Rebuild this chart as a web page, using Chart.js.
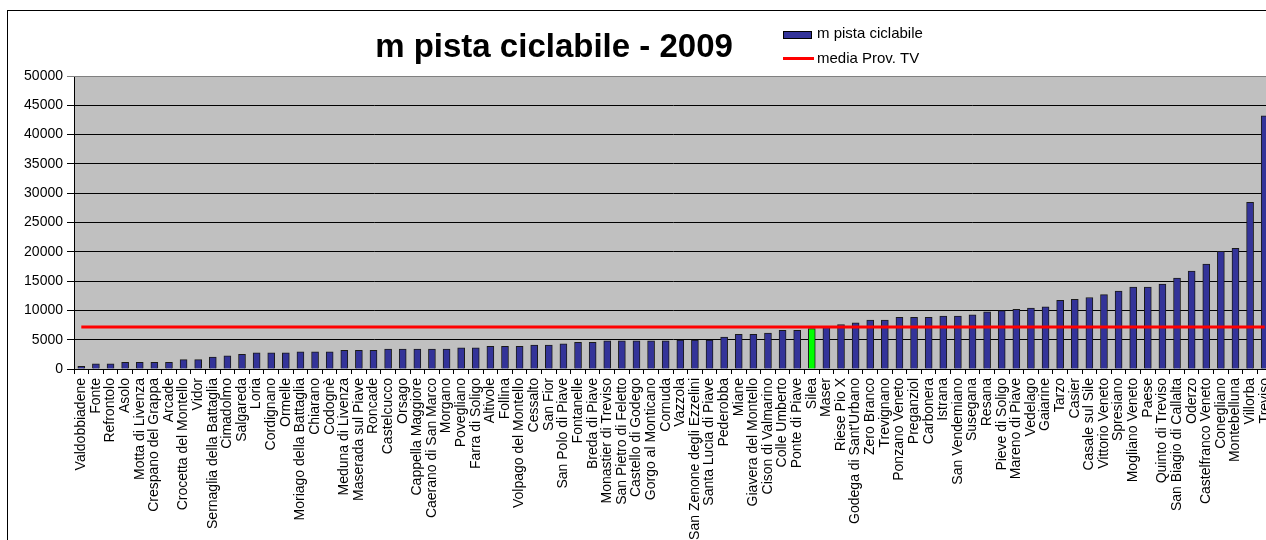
<!DOCTYPE html>
<html lang="it">
<head>
<meta charset="utf-8">
<title>m pista ciclabile - 2009</title>
<script src="https://cdn.jsdelivr.net/npm/chart.js@4.4.1/dist/chart.umd.min.js"></script>
<style>
    html, body {
        margin: 0;
        padding: 0;
        background: #fff;
        overflow: hidden;
    }
    #wrap {
        position: absolute;
        left: 0;
        top: 0;
        width: 1300px;
        height: 600px;
    }
</style>
</head>
<body>
<div id="wrap"><canvas id="pistaChart" width="1300" height="600"></canvas></div>
<script>
const comuni = [
    'Valdobbiadene', 'Fonte', 'Refrontolo', 'Asolo', 'Motta di Livenza', 'Crespano del Grappa',
    'Arcade', 'Crocetta del Montello', 'Vidor', 'Sernaglia della Battaglia', 'Cimadolmo', 'Salgareda',
    'Loria', 'Cordignano', 'Ormelle', 'Moriago della Battaglia', 'Chiarano', 'Codognè',
    'Meduna di Livenza', 'Maserada sul Piave', 'Roncade', 'Castelcucco', 'Orsago', 'Cappella Maggiore',
    'Caerano di San Marco', 'Morgano', 'Povegliano', 'Farra di Soligo', 'Altivole', 'Follina',
    'Volpago del Montello', 'Cessalto', 'San Fior', 'San Polo di Piave', 'Fontanelle', 'Breda di Piave',
    'Monastier di Treviso', 'San Pietro di Feletto', 'Castello di Godego', 'Gorgo al Monticano', 'Cornuda', 'Vazzola',
    'San Zenone degli Ezzelini', 'Santa Lucia di Piave', 'Pederobba', 'Miane', 'Giavera del Montello', 'Cison di Valmarino',
    'Colle Umberto', 'Ponte di Piave', 'Silea', 'Maser', 'Riese Pio X', "Godega di Sant'Urbano",
    'Zero Branco', 'Trevignano', 'Ponzano Veneto', 'Preganziol', 'Carbonera', 'Istrana',
    'San Vendemiano', 'Susegana', 'Resana', 'Pieve di Soligo', 'Mareno di Piave', 'Vedelago',
    'Gaiarine', 'Tarzo', 'Casier', 'Casale sul Sile', 'Vittorio Veneto', 'Spresiano',
    'Mogliano Veneto', 'Paese', 'Quinto di Treviso', 'San Biagio di Callalta', 'Oderzo', 'Castelfranco Veneto',
    'Conegliano', 'Montebelluna', 'Villorba', 'Treviso'
];

// metri di pista ciclabile per comune, 2009
const metriPista = [
    450, 900, 900, 1150, 1150, 1150,
    1150, 1600, 1600, 2050, 2250, 2500,
    2750, 2750, 2750, 2950, 2950, 2950,
    3200, 3200, 3200, 3400, 3400, 3400,
    3400, 3400, 3600, 3600, 3850, 3850,
    3850, 4100, 4100, 4300, 4550, 4550,
    4800, 4800, 4800, 4800, 4800, 4950,
    4950, 4950, 5450, 5900, 5900, 6150,
    6600, 6600, 6900, 7200, 7600, 7900,
    8350, 8350, 8800, 8800, 8800, 9050,
    9050, 9250, 9750, 9950, 10200, 10400,
    10600, 11700, 11900, 12200, 12700, 13300,
    14000, 14000, 14500, 15500, 16700, 17900,
    20100, 20600, 28450, 43200
];

const mediaProvTV = 7150;
const comuneEvidenziato = 'Silea';

const yTicks = [0, 5000, 10000, 15000, 20000, 25000, 30000, 35000, 40000, 45000, 50000];

const titolo = 'm pista ciclabile - 2009';
const FONT = '"Liberation Sans", Arial, sans-serif';

const BLU = '#333399';
const VERDE = '#00FF00';
const ROSSO = '#FF0000';

const PLOT_LEFT = 74;
const PLOT_TOP = 76;
const PLOT_BOTTOM = 369;
const PLOT_RIGHT = 1272;

const canvas = document.getElementById('pistaChart');

// cornice, sfondo grigio, titolo e legenda
const decorPlugin = {
    id: 'decor',
    beforeDraw(chart) {
        const ctx = chart.ctx;
        const a = chart.chartArea;
        ctx.save();
        ctx.fillStyle = '#fff';
        ctx.fillRect(0, 0, chart.width, chart.height);
        ctx.strokeStyle = '#000';
        ctx.lineWidth = 1;
        ctx.strokeRect(7.5, 10.5, chart.width + 50, chart.height + 50);
        ctx.fillStyle = '#C0C0C0';
        ctx.fillRect(a.left, a.top, a.right - a.left, a.bottom - a.top);
        ctx.restore();
    },
    afterDraw(chart) {
        const ctx = chart.ctx;
        const a = chart.chartArea;
        ctx.save();
        ctx.strokeStyle = '#808080';
        ctx.lineWidth = 1;
        ctx.beginPath();
        ctx.moveTo(a.left, a.top + 0.5);
        ctx.lineTo(a.right, a.top + 0.5);
        ctx.stroke();

        ctx.fillStyle = '#000';
        ctx.font = 'bold 33px ' + FONT;
        ctx.textAlign = 'center';
        ctx.textBaseline = 'alphabetic';
        ctx.fillText(titolo, 554, 57);

        const ds = chart.data.datasets;
        ctx.fillStyle = BLU;
        ctx.fillRect(783, 31, 29, 8);
        ctx.strokeStyle = '#000';
        ctx.strokeRect(783.5, 31.5, 28, 7);
        ctx.strokeStyle = ROSSO;
        ctx.lineWidth = 3;
        ctx.beginPath();
        ctx.moveTo(783, 58.5);
        ctx.lineTo(814, 58.5);
        ctx.stroke();

        ctx.fillStyle = '#000';
        ctx.font = '15px ' + FONT;
        ctx.textAlign = 'left';
        ctx.fillText(ds[1].label, 817, 38);
        ctx.fillText(ds[0].label, 817, 62.5);
        ctx.restore();
    }
};

const chart = new Chart(canvas, {
    type: 'bar',
    data: {
        labels: comuni,
        datasets: [{
            type: 'line',
            label: 'media Prov. TV',
            data: comuni.map(() => mediaProvTV),
            borderColor: ROSSO,
            borderWidth: 3,
            pointRadius: 0,
            fill: false,
            order: 0
        }, {
            type: 'bar',
            label: 'm pista ciclabile',
            data: metriPista,
            backgroundColor: comuni.map(c => c === comuneEvidenziato ? VERDE : BLU),
            borderColor: '#1a1a1a',
            borderWidth: 1,
            borderSkipped: 'bottom',
            barThickness: 7,
            order: 1
        }]
    },
    options: {
        responsive: false,
        animation: false,
        devicePixelRatio: 1,
        layout: {
            padding: { top: PLOT_TOP, right: 1300 - PLOT_RIGHT, bottom: 0, left: 0 }
        },
        plugins: {
            legend: { display: false },
            title: { display: false },
            tooltip: { enabled: false }
        },
        scales: {
            x: {
                offset: true,
                afterFit: scale => { scale.height = 600 - PLOT_BOTTOM; },
                grid: {
                    offset: true,
                    drawOnChartArea: false,
                    drawTicks: true,
                    tickLength: 5,
                    color: '#000'
                },
                border: { color: '#000', width: 1 },
                ticks: {
                    autoSkip: false,
                    minRotation: 90,
                    maxRotation: 90,
                    padding: 4,
                    color: '#000',
                    font: { family: FONT, size: 14 }
                }
            },
            y: {
                min: 0,
                max: 50000,
                afterFit: scale => { scale.width = PLOT_LEFT; },
                afterBuildTicks: scale => {
                    scale.ticks = yTicks.map(v => ({ value: v }));
                },
                grid: {
                    color: ctx => ctx.tick && ctx.tick.value === 50000 ? '#808080' : '#000',
                    lineWidth: 1,
                    tickLength: 7,
                    drawTicks: true
                },
                border: { color: '#000', width: 1 },
                ticks: {
                    padding: 4,
                    color: '#000',
                    font: { family: FONT, size: 14 },
                    callback: function(value) {
                        return String(value);
                    }
                }
            }
        }
    },
    plugins: [decorPlugin]
});
</script>
</body>
</html>
